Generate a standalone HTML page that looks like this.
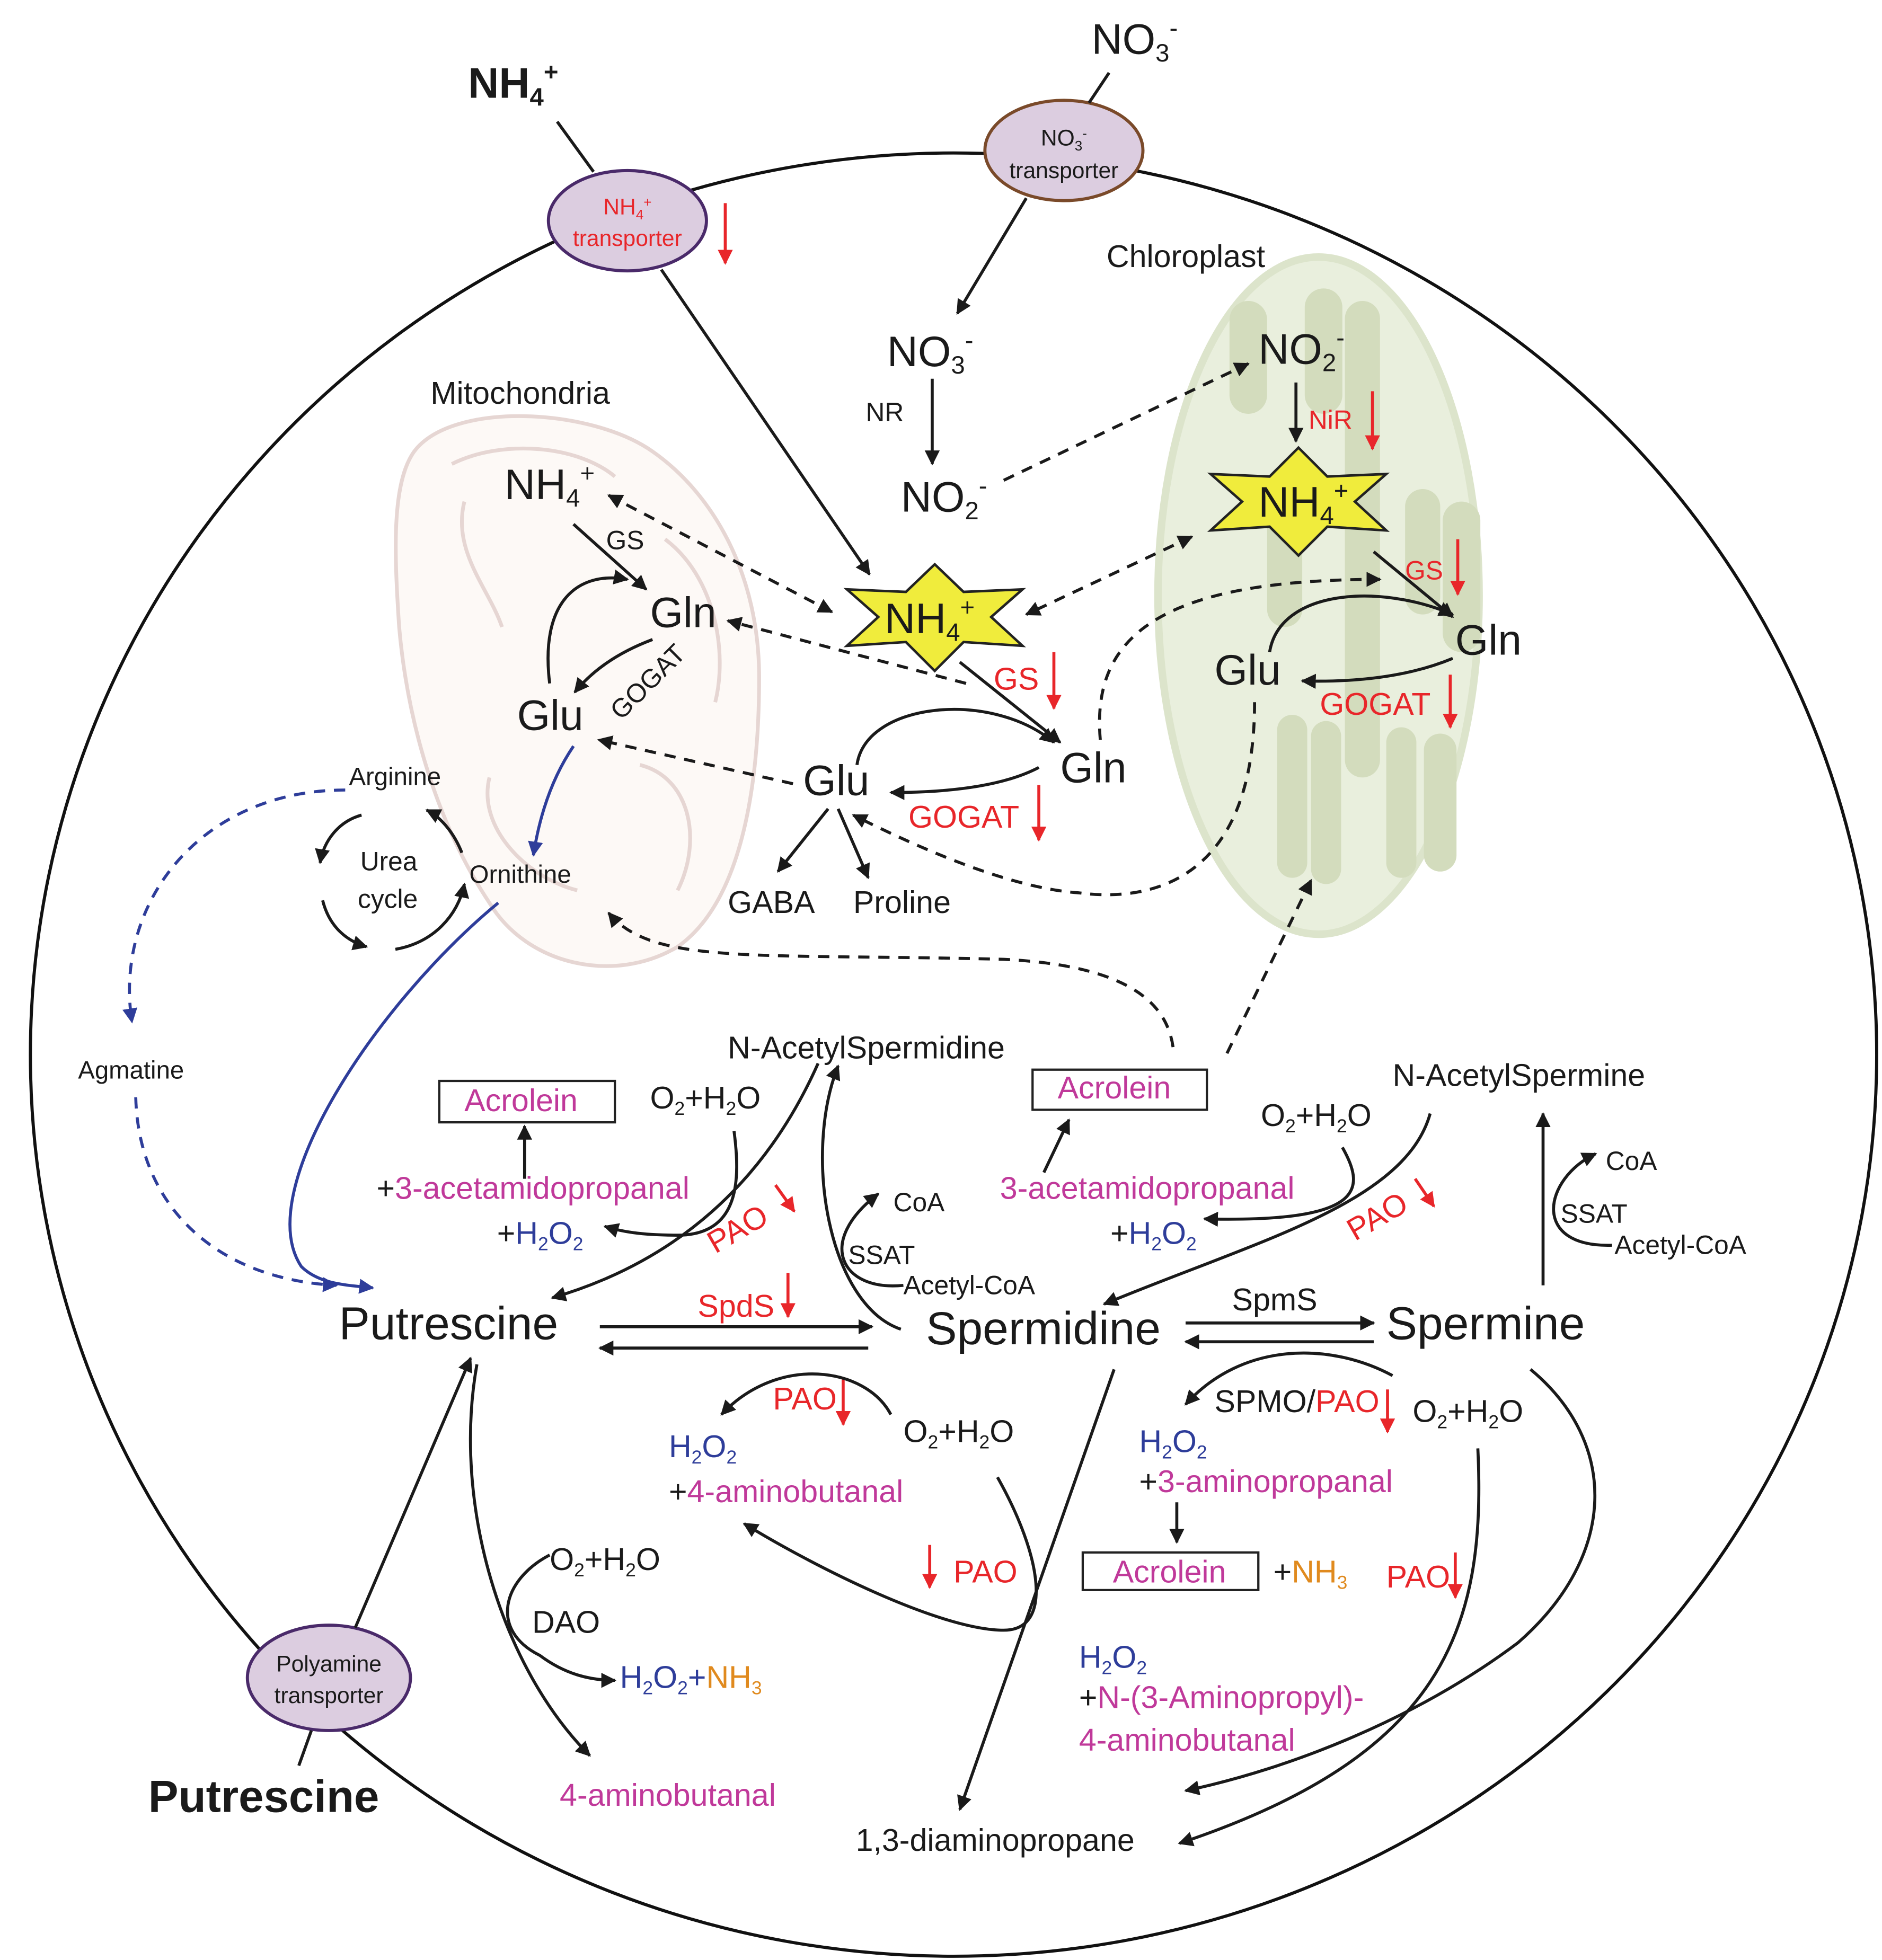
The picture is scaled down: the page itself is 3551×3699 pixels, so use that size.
<!DOCTYPE html>
<html><head><meta charset="utf-8"><style>
html,body{margin:0;padding:0;background:#fff}
svg{display:block}
text{font-family:"Liberation Sans",sans-serif;fill:#1a1a1a}
.r{fill:#e8262a}.m{fill:#c0399a}.b{fill:#2e3d9a}.o{fill:#e08a1e}
.L{font-size:34px}.M{font-size:25px}.S{font-size:21px}
.k{fill:none;stroke:#1a1a1a;stroke-width:2.4}
.d{fill:none;stroke:#1a1a1a;stroke-width:2.4;stroke-dasharray:9 7}
.rl{fill:none;stroke:#e8262a;stroke-width:2.4}
.bl{fill:none;stroke:#2e3d9a;stroke-width:2.4}
.bd{fill:none;stroke:#2e3d9a;stroke-width:2.4;stroke-dasharray:9 7}
.th{fill:#d3dcbd}
</style></head><body>
<svg width="3551" height="3699" viewBox="0 0 1500 1563" xmlns="http://www.w3.org/2000/svg">
<defs>
<marker id="a" viewBox="0 0 10 10" refX="9" refY="5" markerWidth="5" markerHeight="5" orient="auto-start-reverse"><path d="M0,0L10,5L0,10z" fill="#1a1a1a"/></marker>
<marker id="ar" viewBox="0 0 10 10" refX="9" refY="5" markerWidth="5" markerHeight="5" orient="auto"><path d="M0,0L10,5L0,10z" fill="#e8262a"/></marker>
<marker id="ab" viewBox="0 0 10 10" refX="9" refY="5" markerWidth="5" markerHeight="5" orient="auto"><path d="M0,0L10,5L0,10z" fill="#2e3d9a"/></marker>
</defs>
<rect width="1500" height="1563" fill="#fff"/>
<ellipse cx="760" cy="841" rx="736" ry="719" fill="none" stroke="#111" stroke-width="2.5"/>

<!-- chloroplast -->
<ellipse cx="1051" cy="475" rx="128" ry="270" fill="#e9efdd" stroke="#dce4cb" stroke-width="6"/>
<rect class="th" x="980" y="240" width="30" height="90" rx="15"/>
<rect class="th" x="1040" y="230" width="30" height="100" rx="15"/>
<rect class="th" x="1072" y="240" width="28" height="380" rx="14"/>
<rect class="th" x="1010" y="380" width="28" height="120" rx="14"/>
<rect class="th" x="1120" y="390" width="28" height="100" rx="14"/>
<rect class="th" x="1150" y="400" width="30" height="120" rx="15"/>
<rect class="th" x="1018" y="570" width="24" height="130" rx="12"/>
<rect class="th" x="1045" y="575" width="24" height="130" rx="12"/>
<rect class="th" x="1105" y="580" width="24" height="120" rx="12"/>
<rect class="th" x="1135" y="585" width="26" height="110" rx="13"/>
<text x="882" y="213" class="M">Chloroplast</text>

<!-- mitochondria -->
<path d="M330,360 C360,320 470,325 520,360 C570,395 605,460 605,540 C605,630 590,720 540,755 C490,785 420,770 390,720 C350,660 325,580 318,500 C314,440 312,385 330,360Z" fill="#fdf9f6" stroke="#e6d6d3" stroke-width="3"/>
<path d="M360,370 C400,350 460,355 490,380 M370,400 C360,440 390,470 400,500 M530,430 C570,460 580,520 570,560 M390,620 C380,660 420,700 460,710 M510,610 C550,620 560,670 540,710" fill="none" stroke="#e6d6d3" stroke-width="3"/>
<text x="343" y="322" class="M">Mitochondria</text>

<!-- transporters -->
<ellipse cx="500" cy="176" rx="63" ry="40" fill="#dccde0" stroke="#4a2a6a" stroke-width="2.5"/>
<text x="500" y="171" class="r" font-size="18" text-anchor="middle">NH<tspan font-size="11" dy="4">4</tspan><tspan font-size="11" dy="-10">+</tspan></text>
<text x="500" y="196" class="r" font-size="18" text-anchor="middle">transporter</text>
<ellipse cx="848" cy="120" rx="63" ry="40" fill="#dccde0" stroke="#7a4a2a" stroke-width="2.5"/>
<text x="848" y="116" font-size="18" text-anchor="middle">NO<tspan font-size="11" dy="4">3</tspan><tspan font-size="11" dy="-10">-</tspan></text>
<text x="848" y="142" font-size="18" text-anchor="middle">transporter</text>
<ellipse cx="262" cy="1338" rx="65" ry="42" fill="#dccde0" stroke="#4a2a6a" stroke-width="2.5"/>
<text x="262" y="1333" font-size="18" text-anchor="middle">Polyamine</text>
<text x="262" y="1358" font-size="18" text-anchor="middle">transporter</text>

<!-- stars -->
<path d="M745,450 L768,472 L815,470 L790,492 L815,515 L768,512 L745,535 L722,512 L675,515 L700,492 L675,470 L722,472Z" fill="#f0ec3c" stroke="#222" stroke-width="2"/>
<path d="M1035,357 L1058,380 L1105,378 L1080,400 L1105,423 L1058,420 L1035,443 L1012,420 L965,423 L990,400 L965,378 L1012,380Z" fill="#f0ec3c" stroke="#222" stroke-width="2"/>

<!-- top texts -->
<text x="373" y="78" class="L" font-weight="bold">NH<tspan font-size="20" dy="6">4</tspan><tspan font-size="20" dy="-20">+</tspan></text>
<text x="870" y="43" class="L">NO<tspan font-size="20" dy="6">3</tspan><tspan font-size="20" dy="-20">-</tspan></text>
<text x="707" y="292" class="L">NO<tspan font-size="20" dy="6">3</tspan><tspan font-size="20" dy="-20">-</tspan></text>
<text x="690" y="336" class="S">NR</text>
<text x="718" y="408" class="L">NO<tspan font-size="20" dy="6">2</tspan><tspan font-size="20" dy="-20">-</tspan></text>
<text x="1003" y="290" class="L">NO<tspan font-size="20" dy="6">2</tspan><tspan font-size="20" dy="-20">-</tspan></text>
<text x="1043" y="342" class="S r">NiR</text>
<text x="1003" y="412" class="L">NH<tspan font-size="20" dy="6">4</tspan><tspan font-size="20" dy="-20">+</tspan></text>
<text x="705" y="505" class="L">NH<tspan font-size="20" dy="6">4</tspan><tspan font-size="20" dy="-20">+</tspan></text>
<text x="1120" y="462" class="S r">GS</text>
<text x="1160" y="522" class="L">Gln</text>
<text x="968" y="546" class="L">Glu</text>
<text x="1052" y="570" class="M r">GOGAT</text>
<text x="402" y="398" class="L">NH<tspan font-size="20" dy="6">4</tspan><tspan font-size="20" dy="-20">+</tspan></text>
<text x="483" y="438" class="S">GS</text>
<text x="518" y="500" class="L">Gln</text>
<text x="412" y="582" class="L">Glu</text>
<text x="0" y="0" class="S" transform="translate(495,575) rotate(-45)">GOGAT</text>
<text x="792" y="550" class="M r">GS</text>
<text x="845" y="624" class="L">Gln</text>
<text x="640" y="634" class="L">Glu</text>
<text x="724" y="660" class="M r">GOGAT</text>
<text x="580" y="728" class="M">GABA</text>
<text x="680" y="728" class="M">Proline</text>
<text x="278" y="626" font-size="20">Arginine</text>
<text x="287" y="694" class="S">Urea</text>
<text x="285" y="724" class="S">cycle</text>
<text x="374" y="704" font-size="20">Ornithine</text>
<text x="62" y="860" font-size="20">Agmatine</text>

<!-- polyamine texts -->
<text x="580" y="844" class="M">N-AcetylSpermidine</text>
<rect x="350" y="862" width="140" height="33" fill="none" stroke="#222" stroke-width="1.8"/>
<text x="370" y="886" class="M m">Acrolein</text>
<text x="518" y="884" class="M">O<tspan font-size="15" dy="5">2</tspan><tspan dy="-5">+H</tspan><tspan font-size="15" dy="5">2</tspan><tspan dy="-5">O</tspan></text>
<text x="300" y="956" class="M">+<tspan class="m">3-acetamidopropanal</tspan></text>
<text x="396" y="992" class="M">+<tspan class="b">H</tspan><tspan class="b" font-size="15" dy="5">2</tspan><tspan class="b" dy="-5">O</tspan><tspan class="b" font-size="15" dy="5">2</tspan></text>
<text x="0" y="0" class="M r" transform="translate(570,1000) rotate(-30)">PAO</text>
<rect x="823" y="853" width="139" height="32" fill="none" stroke="#222" stroke-width="1.8"/>
<text x="843" y="876" class="M m">Acrolein</text>
<text x="1005" y="898" class="M">O<tspan font-size="15" dy="5">2</tspan><tspan dy="-5">+H</tspan><tspan font-size="15" dy="5">2</tspan><tspan dy="-5">O</tspan></text>
<text x="797" y="956" class="M m">3-acetamidopropanal</text>
<text x="885" y="992" class="M">+<tspan class="b">H</tspan><tspan class="b" font-size="15" dy="5">2</tspan><tspan class="b" dy="-5">O</tspan><tspan class="b" font-size="15" dy="5">2</tspan></text>
<text x="0" y="0" class="M r" transform="translate(1080,990) rotate(-30)">PAO</text>
<text x="1110" y="866" class="M">N-AcetylSpermine</text>
<text x="1280" y="933" class="S">CoA</text>
<text x="1244" y="975" class="S">SSAT</text>
<text x="1287" y="1000" class="S">Acetyl-CoA</text>
<text x="712" y="966" class="S">CoA</text>
<text x="676" y="1008" class="S">SSAT</text>
<text x="720" y="1032" class="S">Acetyl-CoA</text>
<text x="556" y="1050" class="M r">SpdS</text>
<text x="270" y="1068" font-size="37">Putrescine</text>
<text x="738" y="1072" font-size="37">Spermidine</text>
<text x="1105" y="1068" font-size="37">Spermine</text>
<text x="982" y="1045" class="M">SpmS</text>
<text x="616" y="1124" class="M r">PAO</text>
<text x="720" y="1150" class="M">O<tspan font-size="15" dy="5">2</tspan><tspan dy="-5">+H</tspan><tspan font-size="15" dy="5">2</tspan><tspan dy="-5">O</tspan></text>
<text x="533" y="1162" class="M b">H<tspan font-size="15" dy="5">2</tspan><tspan dy="-5">O</tspan><tspan font-size="15" dy="5">2</tspan></text>
<text x="533" y="1198" class="M">+<tspan class="m">4-aminobutanal</tspan></text>
<text x="760" y="1262" class="M r">PAO</text>
<text x="968" y="1126" class="M">SPMO/<tspan class="r">PAO</tspan></text>
<text x="1126" y="1134" class="M">O<tspan font-size="15" dy="5">2</tspan><tspan dy="-5">+H</tspan><tspan font-size="15" dy="5">2</tspan><tspan dy="-5">O</tspan></text>
<text x="908" y="1158" class="M b">H<tspan font-size="15" dy="5">2</tspan><tspan dy="-5">O</tspan><tspan font-size="15" dy="5">2</tspan></text>
<text x="908" y="1190" class="M">+<tspan class="m">3-aminopropanal</tspan></text>
<rect x="863" y="1238" width="140" height="30" fill="none" stroke="#222" stroke-width="1.8"/>
<text x="887" y="1262" class="M m">Acrolein</text>
<text x="1015" y="1262" class="M">+<tspan class="o">NH</tspan><tspan class="o" font-size="15" dy="5">3</tspan></text>
<text x="1105" y="1266" class="M r">PAO</text>
<text x="860" y="1330" class="M b">H<tspan font-size="15" dy="5">2</tspan><tspan dy="-5">O</tspan><tspan font-size="15" dy="5">2</tspan></text>
<text x="860" y="1362" class="M">+<tspan class="m">N-(3-Aminopropyl)-</tspan></text>
<text x="860" y="1396" class="M m">4-aminobutanal</text>
<text x="438" y="1252" class="M">O<tspan font-size="15" dy="5">2</tspan><tspan dy="-5">+H</tspan><tspan font-size="15" dy="5">2</tspan><tspan dy="-5">O</tspan></text>
<text x="424" y="1302" class="M">DAO</text>
<text x="494" y="1346" class="M b">H<tspan font-size="15" dy="5">2</tspan><tspan dy="-5">O</tspan><tspan font-size="15" dy="5">2</tspan><tspan dy="-5">+</tspan><tspan class="o">NH</tspan><tspan class="o" font-size="15" dy="5">3</tspan></text>
<text x="446" y="1440" class="M m">4-aminobutanal</text>
<text x="682" y="1476" class="M">1,3-diaminopropane</text>
<text x="118" y="1445" font-size="36" font-weight="bold">Putrescine</text>

<!-- red arrows -->
<path class="rl" marker-end="url(#ar)" d="M578,162V210"/>
<path class="rl" marker-end="url(#ar)" d="M1094,312V358"/>
<path class="rl" marker-end="url(#ar)" d="M1162,430V474"/>
<path class="rl" marker-end="url(#ar)" d="M1156,538V580"/>
<path class="rl" marker-end="url(#ar)" d="M840,520V565"/>
<path class="rl" marker-end="url(#ar)" d="M828,626V670"/>
<path class="rl" marker-end="url(#ar)" d="M618,945L633,966"/>
<path class="rl" marker-end="url(#ar)" d="M1128,940L1143,962"/>
<path class="rl" marker-end="url(#ar)" d="M628,1015V1050"/>
<path class="rl" marker-end="url(#ar)" d="M672,1100V1136"/>
<path class="rl" marker-end="url(#ar)" d="M741,1232V1266"/>
<path class="rl" marker-end="url(#ar)" d="M1106,1108V1142"/>
<path class="rl" marker-end="url(#ar)" d="M1160,1238V1274"/>

<!-- black connectors -->
<path class="k" d="M444,97L473,137M884,58L868,82M248,1380L238,1408"/>
<path class="k" marker-end="url(#a)" d="M527,215L693,458"/>
<path class="k" marker-end="url(#a)" d="M818,158L763,250"/>
<path class="k" marker-end="url(#a)" d="M743,302V370"/>
<path class="k" marker-end="url(#a)" d="M1033,305V352"/>
<path class="d" marker-end="url(#a)" d="M800,383L995,290"/>
<path class="d" marker-start="url(#a)" marker-end="url(#a)" d="M950,428L818,490"/>
<path class="d" marker-start="url(#a)" marker-end="url(#a)" d="M485,395L663,488"/>
<path class="d" marker-end="url(#a)" d="M770,545L580,495"/>
<path class="d" marker-end="url(#a)" d="M632,625L477,590"/>
<path class="k" marker-end="url(#a)" d="M765,528L845,592"/>
<path class="k" marker-end="url(#a)" d="M828,612Q790,632 710,632"/>
<path class="k" marker-end="url(#a)" d="M683,610C690,560 790,550 840,592"/>
<path class="k" marker-end="url(#a)" d="M660,645L620,695"/>
<path class="k" marker-end="url(#a)" d="M668,645L692,700"/>
<path class="d" marker-end="url(#a)" d="M877,590C870,510 920,462 1100,462"/>
<path class="d" marker-end="url(#a)" d="M1000,560C1000,700 920,720 860,712C800,708 720,670 680,650"/>
<path class="k" marker-end="url(#a)" d="M1095,440L1158,492"/>
<path class="k" marker-end="url(#a)" d="M1158,525Q1110,545 1038,543"/>
<path class="k" marker-end="url(#a)" d="M1012,520C1020,470 1100,465 1158,490"/>
<path class="k" marker-end="url(#a)" d="M457,418L515,470"/>
<path class="k" marker-end="url(#a)" d="M438,545C430,480 460,455 500,462"/>
<path class="k" marker-end="url(#a)" d="M520,510Q480,525 458,552"/>
<path class="bl" marker-end="url(#ab)" d="M457,595C440,620 430,650 425,682"/>
<path class="bl" marker-end="url(#ab)" d="M397,720C300,800 200,950 240,1010C255,1025 280,1025 297,1027"/>
<path class="bd" marker-end="url(#ab)" d="M275,630C160,630 90,720 105,815"/>
<path class="bd" marker-end="url(#ab)" d="M108,875C110,960 170,1020 268,1025"/>
<!-- urea cycle -->
<path class="k" marker-end="url(#a)" d="M288,650C270,655 258,670 255,688"/>
<path class="k" marker-end="url(#a)" d="M257,718C262,738 275,750 292,755"/>
<path class="k" marker-end="url(#a)" d="M315,757C345,752 365,730 370,705"/>
<path class="k" marker-end="url(#a)" d="M368,680C362,665 352,652 340,646"/>
<path class="d" marker-end="url(#a)" d="M935,835C930,800 900,770 800,765C600,760 520,770 485,728"/>
<path class="d" marker-end="url(#a)" d="M978,840L1045,702"/>
<path class="k" marker-end="url(#a)" d="M718,1060C660,1040 640,920 668,850"/>
<path class="k" marker-end="url(#a)" d="M652,848C620,920 560,1000 440,1035"/>
<path class="k" marker-end="url(#a)" d="M585,902C590,940 590,985 540,985C510,985 495,982 482,978"/>
<path class="k" marker-end="url(#a)" d="M418,940V898"/>
<path class="k" marker-end="url(#a)" d="M720,1025C670,1030 650,990 700,952"/>
<path class="k" marker-end="url(#a)" d="M1230,1025V888"/>
<path class="k" marker-end="url(#a)" d="M1285,993C1220,995 1230,940 1272,920"/>
<path class="k" marker-end="url(#a)" d="M1140,888C1120,960 1000,990 880,1040"/>
<path class="k" marker-end="url(#a)" d="M1070,915C1090,950 1085,975 960,972"/>
<path class="k" marker-end="url(#a)" d="M832,935L852,893"/>
<path class="k" marker-end="url(#a)" d="M478,1058H695"/>
<path class="k" marker-end="url(#a)" d="M692,1075H478"/>
<path class="k" marker-end="url(#a)" d="M945,1055H1095"/>
<path class="k" marker-end="url(#a)" d="M1095,1070H945"/>
<path class="k" marker-end="url(#a)" d="M710,1128C690,1090 620,1080 575,1128"/>
<path class="k" marker-end="url(#a)" d="M795,1178C830,1240 840,1300 800,1300C750,1300 650,1250 593,1215"/>
<path class="k" marker-end="url(#a)" d="M888,1092L765,1443"/>
<path class="k" marker-end="url(#a)" d="M1110,1097C1060,1070 990,1070 945,1120"/>
<path class="k" marker-end="url(#a)" d="M938,1198V1230"/>
<path class="k" marker-end="url(#a)" d="M1178,1155C1185,1300 1150,1400 940,1470"/>
<path class="k" marker-end="url(#a)" d="M1220,1092C1290,1150 1290,1240 1210,1310C1130,1370 1030,1410 945,1428"/>
<path class="k" marker-end="url(#a)" d="M283,1298L375,1083"/>
<path class="k" marker-end="url(#a)" d="M380,1088C360,1200 400,1330 470,1400"/>
<path class="k" marker-end="url(#a)" d="M438,1240C400,1260 390,1300 430,1320C450,1335 470,1340 490,1340"/>
</svg>
</body></html>
